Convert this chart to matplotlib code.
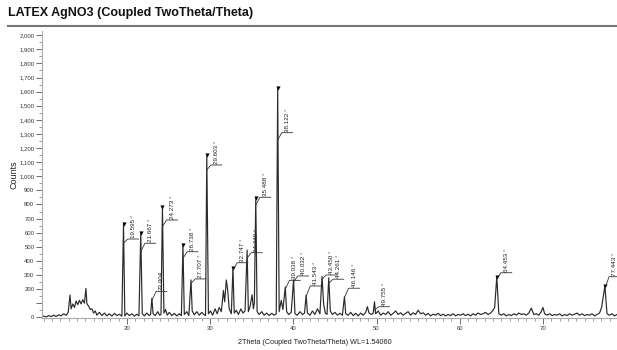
import matplotlib
matplotlib.use("Agg")
import matplotlib.pyplot as plt
from matplotlib.lines import Line2D
from matplotlib.ticker import FixedLocator, FuncFormatter, MultipleLocator

plt.rcParams["font.family"] = ["Liberation Sans", "DejaVu Sans"]

# measured pattern (2theta in degrees, intensity in counts)
two_theta = [
    10.0, 10.3, 10.6, 10.9, 11.2, 11.5, 11.8, 12.1, 12.4, 12.7, 12.95, 13.16, 13.3, 13.5, 13.7,
    13.9, 14.1, 14.3, 14.5, 14.7, 14.9, 15.08, 15.2, 15.4, 15.6, 15.8, 16.0, 16.2, 16.4, 16.7,
    17.0, 17.3, 17.6, 17.9, 18.2, 18.5, 18.8, 19.1, 19.4, 19.595, 19.75, 20.0, 20.3, 20.6, 20.9,
    21.2, 21.45, 21.667, 21.85, 22.1, 22.4, 22.7, 22.85, 23.004, 23.15, 23.4, 23.7, 23.95, 24.1,
    24.273, 24.45, 24.65, 24.85, 25.1, 25.4, 25.7, 26.0, 26.3, 26.55, 26.738, 26.9, 27.2, 27.45,
    27.707, 27.85, 28.1, 28.4, 28.7, 29.0, 29.25, 29.45, 29.603, 29.8, 30.05, 30.3, 30.6, 30.85,
    31.1, 31.35, 31.6, 31.75, 31.95, 32.1, 32.3, 32.55, 32.747, 32.9, 33.15, 33.4, 33.7, 33.95,
    34.2, 34.449, 34.6, 34.8, 35.05, 35.2, 35.32, 35.488, 35.65, 35.9, 36.2, 36.5, 36.8, 37.1,
    37.4, 37.7, 37.95, 38.122, 38.3, 38.55, 38.75, 39.038, 39.2, 39.45, 39.75, 40.032, 40.2, 40.5,
    40.8, 41.1, 41.35, 41.543, 41.7, 42.0, 42.3, 42.6, 42.9, 43.2, 43.45, 43.65, 43.85, 44.05,
    44.261, 44.45, 44.7, 45.0, 45.3, 45.6, 45.9, 46.146, 46.3, 46.6, 46.9, 47.2, 47.5, 47.8,
    48.1, 48.4, 48.7, 48.9, 49.1, 49.4, 49.6, 49.755, 49.9, 50.2, 50.5, 50.8, 51.1, 51.4, 51.7,
    52.0, 52.3, 52.6, 52.9, 53.2, 53.5, 53.8, 54.1, 54.4, 54.7, 55.0, 55.3, 55.6, 55.9, 56.2,
    56.5, 56.8, 57.1, 57.4, 57.7, 58.0, 58.3, 58.6, 58.9, 59.2, 59.5, 59.8, 60.1, 60.4, 60.7,
    61.0, 61.3, 61.6, 61.9, 62.2, 62.5, 62.8, 63.1, 63.4, 63.7, 63.95, 64.2, 64.453, 64.7, 65.0,
    65.3, 65.6, 65.9, 66.2, 66.5, 66.8, 67.1, 67.4, 67.7, 68.0, 68.3, 68.6, 68.9, 69.2, 69.5,
    69.8, 70.0, 70.2, 70.5, 70.8, 71.1, 71.4, 71.7, 72.0, 72.3, 72.6, 72.9, 73.2, 73.5, 73.8,
    74.1, 74.4, 74.7, 75.0, 75.3, 75.6, 75.9, 76.2, 76.5, 76.8, 77.05, 77.443, 77.7, 78.0, 78.3,
    78.6, 78.9,
]
counts = [
    8, 3, 12, 5, 15, 6, 18, 10, 25, 15, 35, 158, 60, 95, 70,
    115, 90, 120, 95, 125, 100, 205, 95, 80, 55, 60, 30, 45, 15, 35,
    12, 30, 10, 25, 8, 28, 12, 22, 8, 662, 10, 30, 12, 25, 8,
    22, 10, 598, 25, 10, 30, 12, 20, 135, 25, 12, 40, 15, 20,
    782, 30, 55, 15, 35, 12, 28, 10, 25, 12, 513, 20, 40, 12,
    265, 45, 18, 40, 15, 35, 20, 12, 1151, 25, 45, 15, 60, 25,
    70, 40, 190, 110, 265, 200, 60, 25, 350, 30, 50, 20, 60, 30,
    45, 477, 40, 75, 160, 60, 100, 845, 40, 20, 40, 15, 30, 12,
    28, 15, 25, 1624, 40, 120, 55, 215, 40, 20, 35, 265, 25, 15,
    40, 20, 30, 158, 30, 15, 45, 20, 60, 25, 290, 90, 30, 20,
    280, 45, 20, 35, 15, 28, 15, 146, 25, 15, 35, 12, 28, 10,
    30, 15, 35, 75, 30, 20, 30, 110, 25, 45, 15, 30, 20, 40, 15,
    28, 45, 20, 32, 15, 28, 40, 15, 32, 20, 50, 25, 32, 15, 28,
    10, 22, 15, 28, 12, 22, 10, 20, 12, 25, 10, 20, 15, 25, 12,
    22, 10, 25, 15, 30, 20, 25, 35, 20, 30, 45, 70, 288, 25, 15,
    25, 10, 20, 12, 25, 15, 30, 20, 25, 15, 30, 65, 20, 25, 15,
    40, 70, 25, 15, 25, 12, 20, 15, 25, 10, 20, 12, 25, 15, 22,
    30, 15, 25, 12, 20, 15, 25, 10, 20, 30, 70, 222, 25, 15, 25,
    10, 20,
]

# identified peaks
peak_pos = [19.595, 21.667, 23.004, 24.273, 26.738, 27.707, 29.603, 32.747, 34.449, 35.488,
            38.122, 39.038, 40.032, 41.543, 43.45, 44.261, 46.146, 49.755, 64.453, 77.443]
peak_labels = ["19.595 °", "21.667 °", "23.004", "24.273 °", "26.738 °", "27.707 °", "29.603 °",
               "32.747 °", "34.449 °", "35.488 °", "38.122 °", "39.038 °", "40.032 °", "41.543 °",
               "43.450 °", "44.261 °", "46.146 °", "49.755 °", "64.453 °", "77.443 °"]
marked_peaks = [19.595, 21.667, 24.273, 26.738, 29.603, 32.747, 35.488, 38.122, 64.453, 77.443]
# label leader: where it leaves the peak and height of the label shelf (counts)
leader_from = [525, 465, 120, 643, 418, 240, 1045, 330, 420, 796,
               1257, 200, 250, 150, 270, 240, 140, 50, 270, 200]
leader_shelf = [555, 525, 182, 690, 465, 272, 1080, 387, 458, 851,
                1309, 262, 293, 222, 300, 270, 206, 75, 316, 288]

W, H = 617, 350
fig = plt.figure(figsize=(W / 100, H / 100), dpi=100)
ax = fig.add_axes([42 / W, 1 - 318 / H, 575 / W, 287 / H])

ax.plot(two_theta, counts, color="#2a2a2a", lw=0.85)

top_of = dict(zip(two_theta, counts))
ax.plot(marked_peaks, [top_of[p] for p in marked_peaks], "v", color="black", ms=3, mew=0)

for pos, lab, y0, y1 in zip(peak_pos, peak_labels, leader_from, leader_shelf):
    ax.plot([pos, pos + 0.5, pos + 1.8], [y0, y1, y1], color="#333333", lw=0.6)
    ax.text(pos + 1.15, y1 + 8, lab, rotation=90, ha="center", va="bottom",
            fontsize=4.5, color="#222222")

ax.set_xlim(9.8, 78.9)
ax.set_ylim(-5, 2030)
for side in ("top", "right"):
    ax.spines[side].set_visible(False)
for side in ("left", "bottom"):
    ax.spines[side].set_color("#aaaaaa")
    ax.spines[side].set_linewidth(0.8)

ax.xaxis.set_major_locator(FixedLocator([20, 30, 40, 50, 60, 70]))
ax.xaxis.set_minor_locator(MultipleLocator(1))
ax.yaxis.set_major_locator(MultipleLocator(100))
ax.yaxis.set_minor_locator(MultipleLocator(50))
ax.yaxis.set_major_formatter(FuncFormatter(lambda v, _: "" if round(v) == 100 else f"{int(round(v)):,}"))
ax.tick_params(which="major", length=4, width=0.6, color="#555555", labelsize=4.3,
               labelcolor="#333333", pad=1.5)
ax.tick_params(which="minor", length=2, width=0.5, color="#777777")

fig.text(8 / W, 1 - 13 / H, "LATEX AgNO3 (Coupled TwoTheta/Theta)", fontsize=9,
         fontweight="bold", ha="left", va="center", color="#111111")
fig.add_artist(Line2D([8 / W, 1], [1 - 26 / H, 1 - 26 / H], color="#777777", lw=1.5))
fig.text(14 / W, 1 - 175 / H, "Counts", rotation=90, fontsize=6.5, ha="center", va="center",
         color="#222222")
fig.text(315 / W, 1 - 343 / H, "2Theta (Coupled TwoTheta/Theta) WL=1.54060", fontsize=5.2,
         ha="center", va="center", color="#222222")

fig.savefig("out.png", dpi=100)
